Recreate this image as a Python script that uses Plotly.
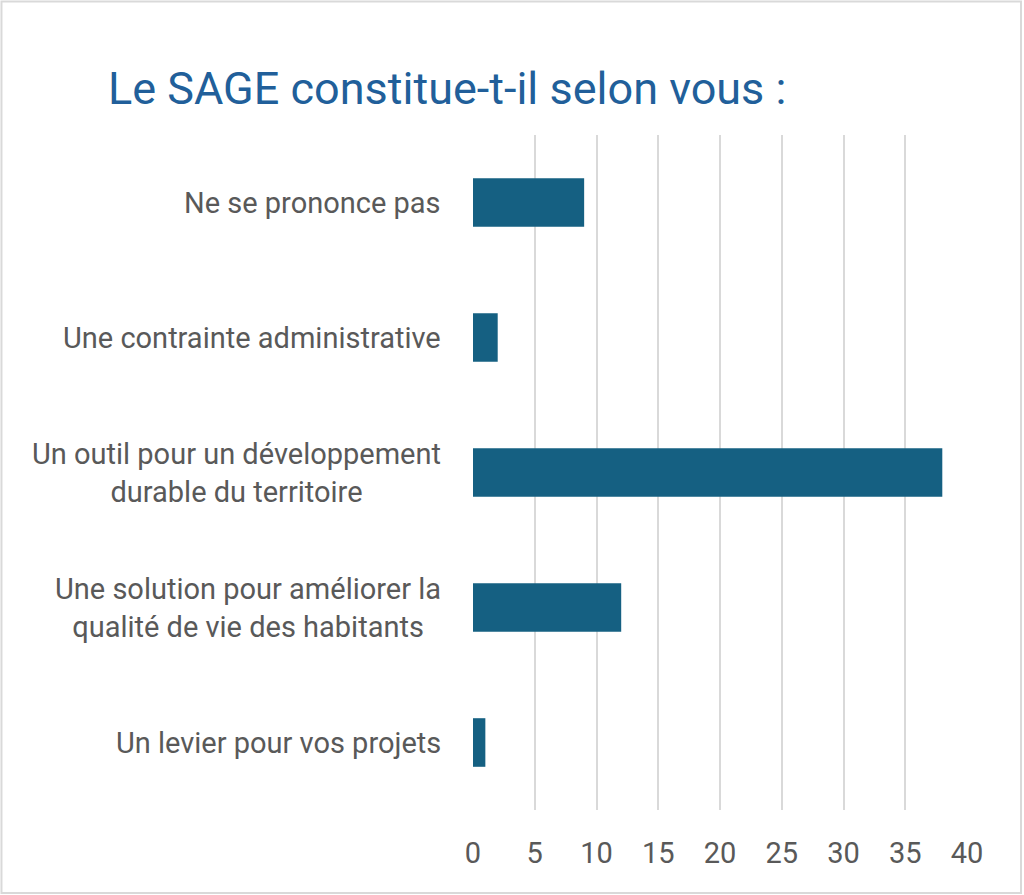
import plotly.graph_objects as go

# Survey answers, top to bottom as shown in the chart
categories = [
    "Ne se prononce pas",
    "Une contrainte administrative",
    "Un outil pour un développement<br>durable du territoire",
    "Une solution pour améliorer la<br>qualité de vie des habitants",
    "Un levier pour vos projets",
]
counts = [9, 2, 38, 12, 1]
x_ticks = [0, 5, 10, 15, 20, 25, 30, 35, 40]

TEXT_GREY = "#595959"
GRID = "#D9D9D9"
FONT = "Roboto"

fig = go.Figure()

fig.add_trace(go.Bar(
    x=counts, y=categories, orientation="h",
    marker=dict(color="#156082", line=dict(width=0)),
    width=0.36,
    hoverinfo="x+y",
))

# Category labels, centered over several lines like in the original
for cat in categories:
    fig.add_annotation(
        x=-0.061, xref="paper", xanchor="right",
        y=cat, yref="y", yanchor="middle",
        text=cat, showarrow=False, align="center",
        font=dict(family=FONT, size=29, color=TEXT_GREY),
    )

# Outer light grey frame
fig.add_shape(
    type="rect", xref="paper", yref="paper",
    x0=-0.9545, x1=1.1093, y0=-0.1230, y1=1.1978,
    line=dict(color=GRID, width=2), fillcolor="rgba(0,0,0,0)",
    layer="below",
)

fig.update_layout(
    width=1024, height=895,
    margin=dict(l=473, r=57, t=135, b=85),
    paper_bgcolor="white", plot_bgcolor="white",
    showlegend=False,
    title=dict(
        text="Le SAGE constitue-t-il selon vous :",
        x=108 / 1024, xanchor="left",
        y=1 - 88 / 895, yanchor="middle",
        font=dict(family=FONT, size=45, color="#215F9A"),
    ),
    xaxis=dict(
        range=[0, 40], tickvals=x_ticks,
        showgrid=True, gridcolor=GRID, gridwidth=2,
        zeroline=False, showline=False,
        ticks="", ticklabelstandoff=23,
        tickfont=dict(family=FONT, size=29, color=TEXT_GREY),
    ),
    yaxis=dict(
        categoryorder="array", categoryarray=categories[::-1],
        showticklabels=False, showgrid=False, zeroline=False, showline=False,
        ticks="",
    ),
)

fig.write_html("out.html", config={"displayModeBar": False},
               post_script="document.body.style.margin='0';")
